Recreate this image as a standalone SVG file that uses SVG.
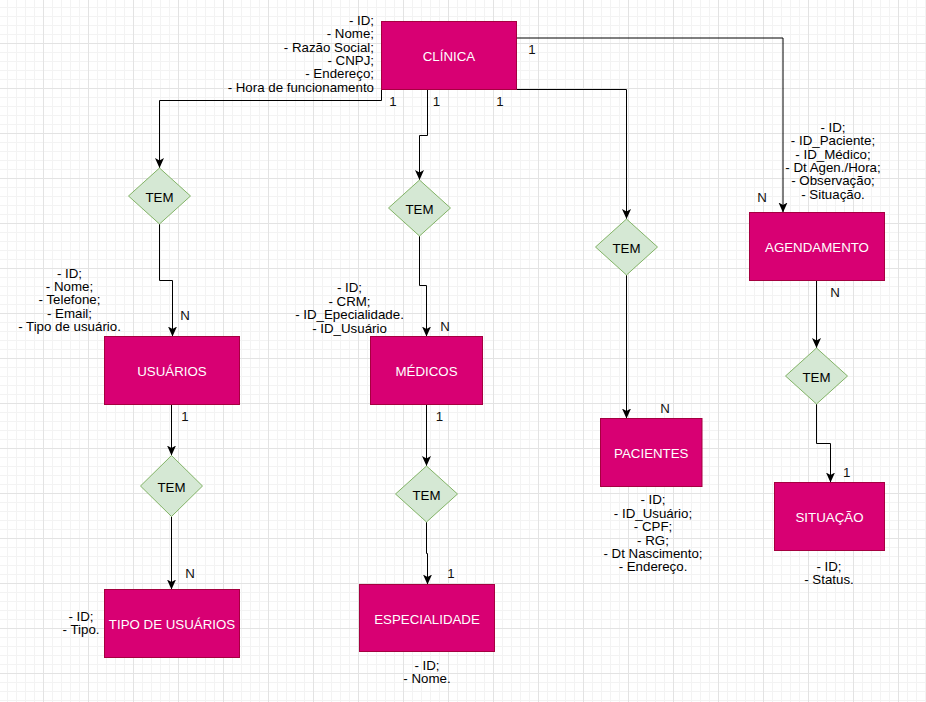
<svg xmlns="http://www.w3.org/2000/svg" width="926" height="702" viewBox="0 0 926 702">
<defs>
<pattern id="grid" x="-2" y="-2" width="45" height="45" patternUnits="userSpaceOnUse">
<rect x="9" y="0" width="1" height="45" fill="#f3f3f3"/>
<rect x="18" y="0" width="1" height="45" fill="#f3f3f3"/>
<rect x="27" y="0" width="1" height="45" fill="#f3f3f3"/>
<rect x="36" y="0" width="1" height="45" fill="#f3f3f3"/>
<rect x="0" y="9" width="45" height="1" fill="#f3f3f3"/>
<rect x="0" y="18" width="45" height="1" fill="#f3f3f3"/>
<rect x="0" y="27" width="45" height="1" fill="#f3f3f3"/>
<rect x="0" y="36" width="45" height="1" fill="#f3f3f3"/>
<rect x="0" y="0" width="1" height="45" fill="#e3e3e3"/>
<rect x="0" y="0" width="45" height="1" fill="#e3e3e3"/>
</pattern>
<marker id="arrow" viewBox="0 0 10 10" refX="10" refY="5" markerWidth="10" markerHeight="10" markerUnits="userSpaceOnUse" orient="auto">
<path d="M0,0.5 L10,5 L0,9.5 L2.5,5 Z" fill="#000"/>
</marker>
<style>
.ent{fill:#d80073;stroke:#a50040;stroke-width:1}
.rel{fill:#d5e8d4;stroke:#82b366;stroke-width:1}
.lbl{font-family:"Liberation Sans",Arial,sans-serif;font-size:13.3px;fill:#ffffff;text-anchor:middle}
.rtx{font-family:"Liberation Sans",Arial,sans-serif;font-size:13.3px;fill:#000;text-anchor:middle}
.att{font-family:"Liberation Sans",Arial,sans-serif;font-size:13.3px;fill:#000;text-anchor:middle}
.attr{font-family:"Liberation Sans",Arial,sans-serif;font-size:13.3px;fill:#000;text-anchor:end}
.card{font-family:"Liberation Sans",Arial,sans-serif;font-size:13.3px;fill:#111;text-anchor:middle}
.edge{fill:none;stroke:#000;stroke-width:1;marker-end:url(#arrow)}
</style>
</defs>
<rect x="0" y="0" width="926" height="702" fill="#ffffff"/>
<rect x="0" y="0" width="926" height="702" fill="url(#grid)"/>

<g id="connectors">
<path class="edge" d="M381.5,89.5 L381.5,100.5 L159.5,100.5 L159.5,168"/>
<path class="edge" d="M427.5,89.5 L427.5,135.5 L419.5,135.5 L419.5,180"/>
<path class="edge" d="M483,89.5 L626.5,89.5 L626.5,219"/>
<path class="edge" d="M516.5,38 L783,38 L783,212.5"/>
<path class="edge" d="M159.5,224 L159.5,280.5 L172.5,280.5 L172.5,336.5"/>
<path class="edge" d="M419.5,236 L419.5,285.5 L426.5,285.5 L426.5,336.5"/>
<path class="edge" d="M626.5,275 L626.5,418.5"/>
<path class="edge" d="M816.5,280.5 L816.5,348"/>
<path class="edge" d="M816.5,404 L816.5,443.5 L830.5,443.5 L830.5,482.5"/>
<path class="edge" d="M171.5,404.5 L171.5,455.5"/>
<path class="edge" d="M171.5,516.5 L171.5,589.5"/>
<path class="edge" d="M426.5,404.5 L426.5,466"/>
<path class="edge" d="M426.5,522 L426.5,553.5 L427.5,553.5 L427.5,584.5"/>
<text class="card" x="393" y="105.5">1</text>
<text class="card" x="436.5" y="105.5">1</text>
<text class="card" x="500" y="105.5">1</text>
<text class="card" x="532" y="54">1</text>
<text class="card" x="762" y="202">N</text>
<text class="card" x="835" y="297">N</text>
<text class="card" x="185" y="320">N</text>
<text class="card" x="445" y="331">N</text>
<text class="card" x="185" y="420.7">1</text>
<text class="card" x="439.5" y="420.7">1</text>
<text class="card" x="190" y="578">N</text>
<text class="card" x="451" y="577.7">1</text>
<text class="card" x="665" y="413.3">N</text>
<text class="card" x="846.7" y="476.7">1</text>
</g>

<g id="clinica">
<rect class="ent" x="381.5" y="21.5" width="135" height="68"/>
<text class="lbl" x="449" y="61">CLÍNICA</text>
<text class="attr" y="24.8"><tspan x="374">- ID;</tspan><tspan x="374" dy="13.4">- Nome;</tspan><tspan x="374" dy="13.4">- Razão Social;</tspan><tspan x="374" dy="13.4">- CNPJ;</tspan><tspan x="374" dy="13.4">- Endereço;</tspan><tspan x="374" dy="13.4">- Hora de funcionamento</tspan></text>
</g>

<g id="tem1">
<path class="rel" d="M159.5,168 L190.5,196 L159.5,224 L128.5,196 Z"/>
<text class="rtx" x="159.5" y="202">TEM</text>
</g>
<g id="tem2">
<path class="rel" d="M419.5,180 L450.5,208 L419.5,236 L388.5,208 Z"/>
<text class="rtx" x="419.5" y="214">TEM</text>
</g>
<g id="tem3">
<path class="rel" d="M626.5,219 L657.5,247 L626.5,275 L595.5,247 Z"/>
<text class="rtx" x="626.5" y="253">TEM</text>
</g>
<g id="tem4">
<path class="rel" d="M171.5,455.5 L202.5,486 L171.5,516.5 L140.5,486 Z"/>
<text class="rtx" x="171.5" y="492">TEM</text>
</g>
<g id="tem5">
<path class="rel" d="M816.5,348 L847.5,376 L816.5,404 L785.5,376 Z"/>
<text class="rtx" x="816.5" y="382">TEM</text>
</g>
<g id="tem6">
<path class="rel" d="M426.5,466 L457.5,494 L426.5,522 L395.5,494 Z"/>
<text class="rtx" x="426.5" y="500">TEM</text>
</g>

<g id="usuarios">
<rect class="ent" x="104.5" y="336.5" width="135" height="68"/>
<text class="lbl" x="172" y="376">USUÁRIOS</text>
<text class="att" y="277.5"><tspan x="69.5">- ID;</tspan><tspan x="69.5" dy="13.4">- Nome;</tspan><tspan x="69.5" dy="13.4">- Telefone;</tspan><tspan x="69.5" dy="13.4">- Email;</tspan><tspan x="69.5" dy="13.4">- Tipo de usuário.</tspan></text>
</g>

<g id="medicos">
<rect class="ent" x="370.5" y="336.5" width="112" height="68"/>
<text class="lbl" x="426.5" y="376">MÉDICOS</text>
<text class="att" y="292.3"><tspan x="349.5">- ID;</tspan><tspan x="349.5" dy="13.4">- CRM;</tspan><tspan x="349.5" dy="13.4">- ID_Epecialidade.</tspan><tspan x="349.5" dy="13.4">- ID_Usuário</tspan></text>
</g>

<g id="pacientes">
<rect class="ent" x="600.5" y="418.5" width="101.5" height="68"/>
<text class="lbl" x="651.3" y="458">PACIENTES</text>
<text class="att" y="504.3"><tspan x="653">- ID;</tspan><tspan x="653" dy="13.4">- ID_Usuário;</tspan><tspan x="653" dy="13.4">- CPF;</tspan><tspan x="653" dy="13.4">- RG;</tspan><tspan x="653" dy="13.4">- Dt Nascimento;</tspan><tspan x="653" dy="13.4">- Endereço.</tspan></text>
</g>

<g id="agendamento">
<rect class="ent" x="749.5" y="212.5" width="135" height="68"/>
<text class="lbl" x="817" y="252">AGENDAMENTO</text>
<text class="att" y="131.8"><tspan x="833">- ID;</tspan><tspan x="833" dy="13.4">- ID_Paciente;</tspan><tspan x="833" dy="13.4">- ID_Médico;</tspan><tspan x="833" dy="13.4">- Dt Agen./Hora;</tspan><tspan x="833" dy="13.4">- Observação;</tspan><tspan x="833" dy="13.4">- Situação.</tspan></text>
</g>

<g id="situacao">
<rect class="ent" x="774.5" y="482.5" width="110" height="68"/>
<text class="lbl" x="829.5" y="522">SITUAÇÃO</text>
<text class="att" y="570.8"><tspan x="829">- ID;</tspan><tspan x="829" dy="13.4">- Status.</tspan></text>
</g>

<g id="tipo-de-usuarios">
<rect class="ent" x="104.5" y="589.5" width="135" height="68"/>
<text class="lbl" x="172" y="629">TIPO DE USUÁRIOS</text>
<text class="att" y="620.8"><tspan x="81">- ID;</tspan><tspan x="81" dy="13.4">- Tipo.</tspan></text>
</g>

<g id="especialidade">
<rect class="ent" x="359.5" y="584.5" width="135" height="67"/>
<text class="lbl" x="427" y="623.5">ESPECIALIDADE</text>
<text class="att" y="669.8"><tspan x="427">- ID;</tspan><tspan x="427" dy="13.4">- Nome.</tspan></text>
</g>
</svg>
